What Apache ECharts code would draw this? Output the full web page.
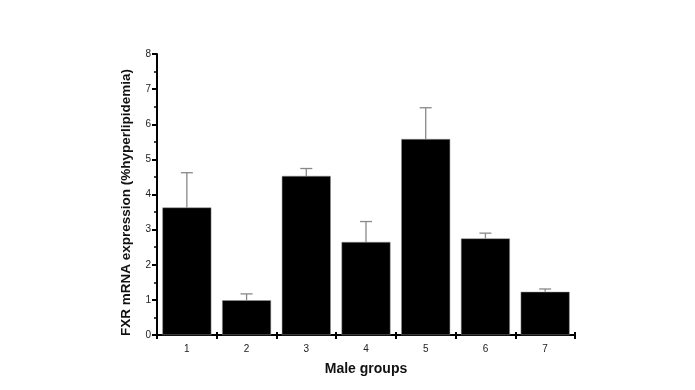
<!DOCTYPE html>
<html><head><meta charset="utf-8">
<script src="https://cdn.jsdelivr.net/npm/echarts@6/dist/echarts.min.js"></script>
<style>html,body{margin:0;padding:0;background:#fff}#c{width:695px;height:390px}</style>
</head><body><div id="c"></div>
<script>
var categories = ['1','2','3','4','5','6','7'];
var means = [3.63, 0.99, 4.53, 2.65, 5.58, 2.75, 1.23];
var upperErr = [4.62, 1.17, 4.74, 3.23, 6.47, 2.90, 1.31];
var yTicks = [0,1,2,3,4,5,6,7,8];

var chart = echarts.init(document.getElementById('c'));
var errData = categories.map(function(c,i){ return [i, means[i], upperErr[i]]; });
chart.setOption({
  animation:false,
  grid:{left:157,right:120,top:54,bottom:55},
  xAxis:[{
    type:'category', data:categories,
    name:'Male groups', nameLocation:'middle', nameGap:27,
    nameTextStyle:{fontFamily:'Liberation Sans',fontWeight:'bold',fontSize:14,color:'#111'},
    axisLine:{lineStyle:{color:'#000',width:2}},
    axisTick:{show:true,length:4,lineStyle:{color:'#000',width:2},alignWithLabel:false},
    axisLabel:{fontFamily:'Liberation Sans',fontSize:10,color:'#222',margin:9}
  },{
    type:'category', data:categories, position:'bottom',
    axisLine:{show:false},
    axisTick:{show:true,inside:true,length:3,lineStyle:{color:'#000',width:2}},
    axisLabel:{show:false}
  }],
  yAxis:{
    type:'value', min:yTicks[0], max:yTicks[yTicks.length-1], interval:1,
    name:'FXR mRNA expression (%hyperlipidemia)', nameLocation:'middle', nameGap:24,
    nameTextStyle:{fontFamily:'Liberation Sans',fontWeight:'bold',fontSize:13.5,color:'#111',padding:[0,16,0,0]},
    axisLine:{show:true,lineStyle:{color:'#000',width:2}},
    axisTick:{show:true,length:5,lineStyle:{color:'#000',width:2}},
    minorTick:{show:true,splitNumber:2,length:3,lineStyle:{color:'#000',width:1.5}},
    splitLine:{show:false},
    axisLabel:{fontFamily:'Liberation Sans',fontSize:10,color:'#222',margin:6}
  },
  series:[
    {type:'bar', data:means, barCategoryGap:'18%',
     itemStyle:{color:'#000',borderColor:'#999',borderWidth:0.5}},
    {type:'custom', data:errData, z:1,
     renderItem:function(params,api){
       var x=api.value(0), lo=api.coord([x,api.value(1)]), hi=api.coord([x,api.value(2)]);
       var half=6;
       var st={stroke:'#888',lineWidth:1.3};
       return {type:'group',children:[
         {type:'line',shape:{x1:lo[0],y1:lo[1],x2:hi[0],y2:hi[1]},style:st},
         {type:'line',shape:{x1:hi[0]-half,y1:hi[1],x2:hi[0]+half,y2:hi[1]},style:st}
       ]};
     }}
  ]
});
</script></body></html>
